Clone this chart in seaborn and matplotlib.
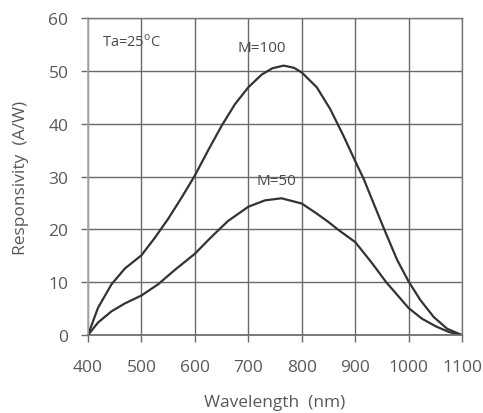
import numpy as np
import pandas as pd
import seaborn as sns
import matplotlib.pyplot as plt

# values
wl_m100 = [400, 419, 444, 469, 500, 525, 550, 575, 600, 625, 650, 675, 700, 725, 745, 766,
           785, 800, 828, 853, 878, 900, 916, 934, 953, 978, 1000, 1022, 1047, 1072, 1100]
resp_m100 = [0, 5.2, 9.6, 12.6, 15.1, 18.4, 22, 26, 30.2, 35, 39.6, 43.7, 46.9, 49.3, 50.5, 51,
             50.6, 49.7, 46.9, 42.8, 37.7, 32.9, 29.5, 25, 20.3, 14.3, 10.1, 6.6, 3.4, 1.2, 0]

wl_m50 = [400, 419, 444, 469, 500, 531, 562, 600, 631, 662, 700, 731, 762,
          800, 828, 850, 866, 900, 930, 958, 1000, 1025, 1050, 1075, 1100]
resp_m50 = [0, 2.4, 4.5, 6.0, 7.5, 9.6, 12.3, 15.4, 18.6, 21.6, 24.3, 25.5, 25.9,
            24.9, 23, 21.4, 20.1, 17.6, 13.8, 10, 5.1, 3.1, 1.7, 0.6, 0]

xticks = [400, 500, 600, 700, 800, 900, 1000, 1100]
yticks = [0, 10, 20, 30, 40, 50, 60]

df = pd.concat([
    pd.DataFrame({"wl": wl_m100, "r": resp_m100, "M": "M=100"}),
    pd.DataFrame({"wl": wl_m50, "r": resp_m50, "M": "M=50"}),
])

sns.set_theme(style="white")
plt.rcParams['font.family'] = ['Open Sans', 'DejaVu Sans']
txt = "#595959"

fig, ax = plt.subplots(figsize=(4.83, 4.14), dpi=100)
fig.subplots_adjust(left=0.182, right=0.957, top=0.954, bottom=0.188)

sns.lineplot(data=df, x="wl", y="r", units="M", estimator=None, color="#333333",
             linewidth=1.6, ax=ax, sort=False)

ax.set_xlim(400, 1100)
ax.set_ylim(0, 60)
ax.set_xticks(xticks)
ax.set_yticks(yticks)
ax.grid(True, color="#6a6a6a", linewidth=1.0)
ax.set_axisbelow(True)
for s in ["top", "right"]:
    ax.spines[s].set_color("#777777")
    ax.spines[s].set_linewidth(1.0)
ax.spines["left"].set_color("#aaaaaa")
ax.spines["bottom"].set_color("#6a6a6a")
ax.tick_params(axis="both", length=5, width=1.0, color="#6a6a6a",
               labelsize=12.5, labelcolor=txt, direction="out", bottom=True, left=True)
ax.tick_params(axis="x", pad=12)
ax.tick_params(axis="y", pad=9)

ax.set_xlabel("Wavelength  (nm)", fontsize=12.5, color=txt, labelpad=14)
ax.set_ylabel("Responsivity  (A/W)", fontsize=12.5, color=txt, labelpad=14)

ax.text(426, 55.7, "Ta=25$^{\\mathregular{o}}$C", fontsize=10.5, color="#4a4a4a", va="center")
ax.text(726, 54.5, "M=100", fontsize=11, color="#4a4a4a", ha="center", va="center")
ax.text(752, 29.2, "M=50", fontsize=11, color="#4a4a4a", ha="center", va="center")

fig.savefig("out.png", dpi=100)
